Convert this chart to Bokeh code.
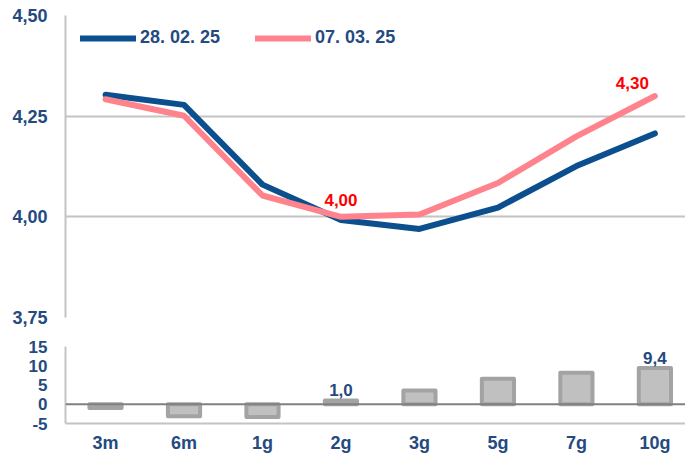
from bokeh.plotting import figure
from bokeh.models import (Range1d, FixedTicker, CustomJSTickFormatter, Span,
                          ColumnDataSource, Legend)
from bokeh.layouts import column
from bokeh.core.properties import value
from bokeh.embed import file_html
from bokeh.resources import INLINE

# ---- data ----
categories = ["3m", "6m", "1g", "2g", "3g", "5g", "7g", "10g"]
series1_name = "28. 02. 25"
series1 = [4.303, 4.278, 4.080, 3.992, 3.970, 4.023, 4.126, 4.207]
series2_name = "07. 03. 25"
series2 = [4.292, 4.251, 4.053, 4.000, 4.006, 4.084, 4.200, 4.300]
diff_bp = [-1.0, -3.1, -3.3, 1.0, 3.6, 6.6, 8.2, 9.4]
top_ticks = [3.75, 4.00, 4.25, 4.50]
bottom_ticks = [-5, 0, 5, 10, 15]
line_label_idx = [3, 7]
bar_label_idx = [3, 7]

# ---- styles ----
FONT = "Liberation Sans"
NAVY = "#244A7F"
BLUE = "#0B4F8F"
PINK = "#FF838C"
GRID = "#C4C4C4"

xs = list(range(len(categories)))
x_range = Range1d(-0.51, 7.39)

cat_fmt = CustomJSTickFormatter(args=dict(cats=categories),
                                code="var i = Math.round(tick); return (i>=0 && i<cats.length) ? cats[i] : '';")
dec_fmt = CustomJSTickFormatter(code="return tick.toFixed(2).replace('.', ',');")
int_fmt = CustomJSTickFormatter(code="return tick.toFixed(0);")


def style_axis(ax, size, standoff):
    ax.axis_line_color = GRID
    ax.axis_line_width = 2
    ax.major_tick_line_color = None
    ax.minor_tick_line_color = None
    ax.major_tick_out = 0
    ax.major_tick_in = 0
    ax.minor_tick_out = 0
    ax.minor_tick_in = 0
    ax.major_label_standoff = standoff
    ax.major_label_text_font = FONT
    ax.major_label_text_font_style = "bold"
    ax.major_label_text_font_size = size
    ax.major_label_text_color = NAVY


# ---- top figure ----
p = figure(width=685, height=328, x_range=x_range, y_range=Range1d(3.75, 4.50),
           output_backend="svg", toolbar_location=None, x_axis_location=None,
           min_border_left=65, min_border_right=0, min_border_top=15, min_border_bottom=11)
p.outline_line_color = None
p.xgrid.visible = False
p.ygrid.ticker = FixedTicker(ticks=top_ticks)
p.ygrid.grid_line_color = GRID
p.ygrid.grid_line_width = 2
yax = p.yaxis[0]
yax.ticker = FixedTicker(ticks=top_ticks)
yax.formatter = dec_fmt
style_axis(yax, "18px", 18)

src = ColumnDataSource(dict(x=xs, s1=series1, s2=series2))
r1 = p.line("x", "s1", source=src, line_color=BLUE, line_width=6,
            line_cap="round", line_join="round")
r2 = p.line("x", "s2", source=src, line_color=PINK, line_width=6,
            line_cap="round", line_join="round")

lab_src_a = ColumnDataSource(dict(x=[xs[line_label_idx[0]]], y=[series2[line_label_idx[0]]],
                                  t=[f"{series2[line_label_idx[0]]:.2f}".replace(".", ",")]))
lab_src_b = ColumnDataSource(dict(x=[xs[line_label_idx[1]]], y=[series2[line_label_idx[1]]],
                                  t=[f"{series2[line_label_idx[1]]:.2f}".replace(".", ",")]))
p.text("x", "y", text="t", source=lab_src_a, text_align="center", text_baseline="bottom",
       y_offset=-11, text_color="#FF0000", text_font=value(FONT), text_font_style="bold",
       text_font_size="17px")
p.text("x", "y", text="t", source=lab_src_b, text_align="right", text_baseline="bottom",
       x_offset=-6, y_offset=-7, text_color="#FF0000", text_font=value(FONT),
       text_font_style="bold", text_font_size="17px")

legend = Legend(items=[(series1_name, [r1]), (series2_name, [r2])],
                orientation="horizontal", location=(7, 261))
legend.glyph_width = 56
legend.glyph_height = 16
legend.label_height = 16
legend.label_standoff = 4
legend.spacing = 35
legend.margin = 0
legend.padding = 8
legend.border_line_alpha = 0
legend.background_fill_alpha = 0
legend.label_text_font = FONT
legend.label_text_font_style = "bold"
legend.label_text_font_size = "18px"
legend.label_text_color = NAVY
p.add_layout(legend, "center")

# ---- bottom figure ----
q = figure(width=685, height=127, x_range=x_range, y_range=Range1d(-5, 15),
           output_backend="svg", toolbar_location=None,
           min_border_left=65, min_border_right=0, min_border_top=18, min_border_bottom=31)
q.outline_line_color = None
q.xgrid.visible = False
q.ygrid.ticker = FixedTicker(ticks=[bottom_ticks[0], bottom_ticks[-1]])
q.ygrid.grid_line_color = GRID
q.ygrid.grid_line_width = 2
qy = q.yaxis[0]
qy.ticker = FixedTicker(ticks=bottom_ticks)
qy.formatter = int_fmt
style_axis(qy, "17px", 18)
qx = q.xaxis[0]
qx.ticker = FixedTicker(ticks=xs)
qx.formatter = cat_fmt
style_axis(qx, "18px", 9)

q.add_layout(Span(location=0, dimension="width", line_color="#808080", line_width=2))
bsrc = ColumnDataSource(dict(x=xs, top=diff_bp))
q.vbar(x="x", top="top", bottom=0, width=0.41, source=bsrc,
       fill_color="#C0C0C0", line_color="#A3A3A3", line_width=4, line_join="round")
bl_src = ColumnDataSource(dict(x=[xs[i] for i in bar_label_idx],
                               y=[diff_bp[i] for i in bar_label_idx],
                               t=[f"{diff_bp[i]:.1f}".replace(".", ",") for i in bar_label_idx]))
q.text("x", "y", text="t", source=bl_src, text_align="center", text_baseline="bottom",
       y_offset=-4, text_color=NAVY, text_font=value(FONT), text_font_style="bold",
       text_font_size="17px")

layout = column(p, q, spacing=0)
open("out.html", "w").write(file_html(layout, INLINE))
